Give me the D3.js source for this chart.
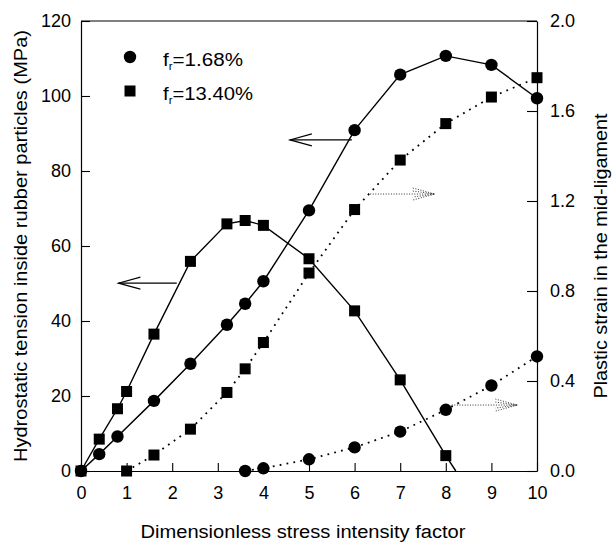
<!DOCTYPE html>
<html>
<head>
<meta charset="utf-8">
<script src="https://cdn.jsdelivr.net/npm/d3@7"></script>
<style>
  body { margin: 0; background: #fff; }
  svg text { font-family: "Liberation Sans", Arial, Helvetica, sans-serif; fill: #000; }
</style>
</head>
<body>
<div id="chart"></div>
<script>
//stress intensity factor positions of each series
const xTensionLow = [0, 0.4, 0.8, 1.6, 2.4, 3.2, 3.6, 4, 5, 6, 7, 8, 9, 10];
const tensionLow = [0, 4.5, 9.2, 18.7, 28.6, 39, 44.6, 50.6, 69.5, 90.9, 105.7, 110.7, 108.3, 99.4];

const xTensionHigh = [0, 0.4, 0.8, 1, 1.6, 2.4, 3.2, 3.6, 4, 5, 6, 7, 8];
const tensionHigh = [0, 8.5, 16.6, 21.2, 36.5, 55.9, 65.9, 66.8, 65.5, 56.6, 42.7, 24.3, 4.1];
//the solid square line runs on down to the axis past the last marker
const tensionHighEnd = [8.22, 0];

const xStrainHigh = [1, 1.6, 2.4, 3.2, 3.6, 4, 5, 6, 7, 8, 9, 10];
const strainHigh = [0, 0.071, 0.186, 0.349, 0.454, 0.571, 0.88, 1.162, 1.382, 1.544, 1.662, 1.748];

const xStrainLow = [3.6, 4, 5, 6, 7, 8, 9, 10];
const strainLow = [0, 0.012, 0.052, 0.105, 0.175, 0.272, 0.38, 0.509];

//tick labels
const xTicks = [0, 1, 2, 3, 4, 5, 6, 7, 8, 9, 10];
const yLeftTicks = [0, 20, 40, 60, 80, 100, 120];
const yRightTicks = [0, 0.4, 0.8, 1.2, 1.6, 2.0];

//legend labels
const legendLabels = ["1.68%", "13.40%"];

//arrows telling which axis a curve belongs to: [x start, x tip, y]
const arrowsLeft = [[5.94, 4.58, 88.3], [2.10, 0.82, 50.1]];
const arrowsRight = [[6.34, 7.76, 1.231], [8.13, 9.57, 0.293]];

//set up SVG
const W = 612, H = 543;
const plot = { left: 81, right: 537, top: 21, bottom: 471 };

const svg = d3.select("#chart")
    .append("svg")
    .attr("width", W)
    .attr("height", H);

//scales
const x = d3.scaleLinear().domain([0, 10]).range([plot.left, plot.right]);
const yL = d3.scaleLinear().domain([0, 120]).range([plot.bottom, plot.top]);
const yR = d3.scaleLinear().domain([0, 2]).range([plot.bottom, plot.top]);

//frame top line
svg.append("line")
    .attr("x1", x(0)).attr("x2", x(10))
    .attr("y1", yL(120)).attr("y2", yL(120))
    .attr("stroke", "#000").attr("stroke-width", 1.2);

//axes, ticks point inward
const styleAxis = g => {
    g.select(".domain").attr("stroke", "#000").attr("stroke-width", 1.2);
    g.selectAll(".tick line").attr("stroke", "#000").attr("stroke-width", 1.1);
    g.selectAll("text").style("font-size", "18px").attr("fill", "#000");
};

svg.append("g")
    .attr("transform", `translate(0,${plot.bottom})`)
    .call(d3.axisBottom(x).tickValues(xTicks).tickFormat(d3.format("d"))
        .tickSizeInner(-8).tickSizeOuter(0).tickPadding(15))
    .call(styleAxis);

svg.append("g")
    .attr("transform", `translate(${plot.left},0)`)
    .call(d3.axisLeft(yL).tickValues(yLeftTicks).tickFormat(d3.format("d"))
        .tickSizeInner(-9).tickSizeOuter(0).tickPadding(10))
    .call(styleAxis);

svg.append("g")
    .attr("transform", `translate(${plot.right},0)`)
    .call(d3.axisRight(yR).tickValues(yRightTicks).tickFormat(d3.format(".1f"))
        .tickSizeInner(-10).tickSizeOuter(0).tickPadding(13))
    .call(styleAxis);

//axis titles
svg.append("text")
    .attr("x", 303)
    .attr("y", 538)
    .attr("text-anchor", "middle")
    .attr("textLength", 325).attr("lengthAdjust", "spacingAndGlyphs")
    .style("font-size", "18px")
    .text("Dimensionless stress intensity factor");

svg.append("text")
    .attr("transform", "translate(27,246) rotate(-90)")
    .attr("text-anchor", "middle")
    .attr("textLength", 432).attr("lengthAdjust", "spacingAndGlyphs")
    .style("font-size", "18px")
    .text("Hydrostatic tension inside rubber particles (MPa)");

svg.append("text")
    .attr("transform", "translate(607,256) rotate(-90)")
    .attr("text-anchor", "middle")
    .attr("textLength", 285).attr("lengthAdjust", "spacingAndGlyphs")
    .style("font-size", "18px")
    .text("Plastic strain in the mid-ligament");

//lines
const lineL = d3.line().x(d => x(d[0])).y(d => yL(d[1]));
const lineR = d3.line().x(d => x(d[0])).y(d => yR(d[1]));

const tLow = xTensionLow.map((v, i) => [v, tensionLow[i]]);
const tHigh = xTensionHigh.map((v, i) => [v, tensionHigh[i]]);
const sHigh = xStrainHigh.map((v, i) => [v, strainHigh[i]]);
const sLow = xStrainLow.map((v, i) => [v, strainLow[i]]);

svg.append("path").datum(tLow).attr("d", lineL)
    .attr("fill", "none").attr("stroke", "#000").attr("stroke-width", 1.4);
svg.append("path").datum(tHigh.concat([tensionHighEnd])).attr("d", lineL)
    .attr("fill", "none").attr("stroke", "#000").attr("stroke-width", 1.4);
svg.append("path").datum(sHigh).attr("d", lineR)
    .attr("fill", "none").attr("stroke", "#000").attr("stroke-width", 1.8)
    .attr("stroke-dasharray", "1.8,5.2");
svg.append("path").datum(sLow).attr("d", lineR)
    .attr("fill", "none").attr("stroke", "#000").attr("stroke-width", 1.8)
    .attr("stroke-dasharray", "1.8,5.2");

//markers
const r = 6.2, s = 11;
function circles(data, y) {
    svg.append("g").selectAll("circle")
        .data(data).enter().append("circle")
        .attr("cx", d => x(d[0])).attr("cy", d => y(d[1]))
        .attr("r", r).attr("fill", "#000");
}
function squares(data, y) {
    svg.append("g").selectAll("rect")
        .data(data).enter().append("rect")
        .attr("x", d => x(d[0]) - s / 2).attr("y", d => y(d[1]) - s / 2)
        .attr("width", s).attr("height", s).attr("fill", "#000");
}
squares(sHigh, yR);
circles(sLow, yR);
circles(tLow, yL);
squares(tHigh, yL);

//arrows
function arrow(a, y, dotted) {
    const g = svg.append("g")
        .attr("fill", "none")
        .attr("stroke", dotted ? "#333" : "#000")
        .attr("stroke-width", dotted ? 1 : 1.1);
    if (dotted) g.attr("stroke-dasharray", "1,1.6");
    const x0 = x(a[0]), x1 = x(a[1]), yy = y(a[2]);
    const dir = x1 < x0 ? 1 : -1;
    g.append("line").attr("x1", x0).attr("x2", x1).attr("y1", yy).attr("y2", yy);
    g.append("path").attr("d", `M${x1 + dir * 22},${yy - 6}L${x1},${yy}L${x1 + dir * 22},${yy + 6}`);
    if (dotted) g.append("path").attr("d", `M${x1 + dir * 22},${yy - 3}L${x1},${yy}L${x1 + dir * 22},${yy + 3}`);
}
arrowsLeft.forEach(a => arrow(a, yL, false));
arrowsRight.forEach(a => arrow(a, yR, true));

//legend
const legend = svg.append("g").attr("transform", "translate(130,57)");
const legendWidths = [80, 90];
legendLabels.forEach((lab, i) => {
    const row = legend.append("g").attr("transform", `translate(0,${i * 34})`);
    if (i === 0) row.append("circle").attr("r", r).attr("fill", "#000");
    else row.append("rect").attr("x", -s / 2).attr("y", -s / 2).attr("width", s).attr("height", s).attr("fill", "#000");
    const t = row.append("text").attr("x", 33).attr("y", 9).style("font-size", "18px")
        .attr("textLength", legendWidths[i]).attr("lengthAdjust", "spacingAndGlyphs");
    t.append("tspan").text("f");
    t.append("tspan").attr("dy", 4).style("font-size", "10px").text("r");
    t.append("tspan").attr("dy", -4).text("=" + lab);
});
</script>
</body>
</html>
